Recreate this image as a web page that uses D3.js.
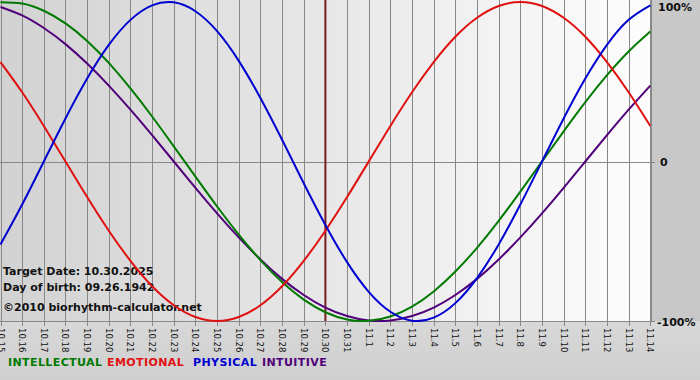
<!DOCTYPE html>
<html><head><meta charset="utf-8">
<script src="https://cdn.jsdelivr.net/npm/d3@7"></script>
<style>
html,body{margin:0;padding:0;background:#cbcbcb;}
svg{display:block;}
</style></head>
<body>
<svg id="c" width="700" height="380"></svg>
<script>
const dates = ["10.15","10.16","10.17","10.18","10.19","10.20","10.21","10.22","10.23","10.24","10.25","10.26","10.27","10.28","10.29","10.30","10.31","11.1","11.2","11.3","11.4","11.5","11.6","11.7","11.8","11.9","11.10","11.11","11.12","11.13","11.14"];
const physical = [-52.0,-27.0,0,27.0,52.0,73.1,88.8,97.9,99.8,94.2,81.7,63.1,39.8,13.6,-13.6,-39.8,-63.1,-81.7,-94.2,-99.8,-97.9,-88.8,-73.1,-52.0,-27.0,0,27.0,52.0,73.1,88.8,97.9];
const emotional = [62.3,43.4,22.3,0,-22.3,-43.4,-62.3,-78.2,-90.1,-97.5,-100,-97.5,-90.1,-78.2,-62.3,-43.4,-22.3,0,22.3,43.4,62.3,78.2,90.1,97.5,100,97.5,90.1,78.2,62.3,43.4,22.3];
const intellectual = [99.9,99.0,94.5,86.6,75.6,61.8,45.8,28.2,9.5,-9.5,-28.2,-45.8,-61.8,-75.6,-86.6,-94.5,-99.0,-99.9,-97.2,-91.0,-81.5,-69.0,-54.1,-37.2,-18.9,0,18.9,37.2,54.1,69.0,81.5];
const intuitive = [96.9,91.6,83.7,73.6,61.4,47.6,32.5,16.5,0,-16.5,-32.5,-47.6,-61.4,-73.6,-83.7,-91.6,-96.9,-99.7,-99.7,-96.9,-91.6,-83.7,-73.6,-61.4,-47.6,-32.5,-16.5,0,16.5,32.5,47.6];
const yTicks = [100,0,-100];
const yTickLabels = ["100%","0","-100%"];
const targetIndex = 15;
const infoLines = ["Target Date: 10.30.2025","Day of birth: 09.26.1942","©2010 biorhythm-calculator.net"];
const legend = [["INTELLECTUAL","#007a00"],["EMOTIONAL","#e01010"],["PHYSICAL","#0000d0"],["INTUITIVE","#50007a"]];

const svg = d3.select("#c");
const W=700,H=380, PL=0, PR=651, PT=0, PB=321;
const FONT = "DejaVu Sans, Verdana, sans-serif";
const x = d3.scaleLinear().domain([0,dates.length-1]).range([0.5,650.3]);
const y = d3.scaleLinear().domain([-100,100]).range([321,2]);
const defs = svg.append("defs");
const g1 = defs.append("linearGradient").attr("id","bg").attr("x1","0").attr("x2","1").attr("y1","0").attr("y2","0");
g1.append("stop").attr("offset","0").attr("stop-color","#d2d2d2");
g1.append("stop").attr("offset","1").attr("stop-color","#fdfdfd");
const g2 = defs.append("linearGradient").attr("id","bot").attr("x1","0").attr("x2","0").attr("y1","0").attr("y2","1");
g2.append("stop").attr("offset","0").attr("stop-color","#d8d8d8");
g2.append("stop").attr("offset","1").attr("stop-color","#cfcfcf");

svg.append("rect").attr("x",0).attr("y",PB).attr("width",W).attr("height",H-PB).attr("fill","url(#bot)");
svg.append("rect").attr("x",PR).attr("y",0).attr("width",W-PR).attr("height",PB).attr("fill","#c8c8c8");
svg.append("rect").attr("x",PL).attr("y",PT).attr("width",PR-PL).attr("height",PB-PT).attr("fill","url(#bg)");

// vertical grid + ticks + labels
const gx = svg.append("g");
dates.forEach((d,i)=>{
  const xx = Math.round(x(i))+0.5;
  gx.append("line").attr("x1",xx).attr("x2",xx).attr("y1",PT).attr("y2",PB+5)
    .attr("stroke","#888").attr("stroke-width",1);
  gx.append("text").attr("transform",`translate(${xx-3.5},${PB+7}) rotate(90)`)
    .attr("font-family",FONT).attr("font-size","8.5px")
    .attr("fill","#111").text(d);
});
// horizontal lines
svg.append("line").attr("x1",0).attr("x2",PR+4).attr("y1",Math.round(y(0))+0.5).attr("y2",Math.round(y(0))+0.5).attr("stroke","#888");
svg.append("line").attr("x1",0).attr("x2",PR+4).attr("y1",PB+0.5).attr("y2",PB+0.5).attr("stroke","#888");
svg.append("line").attr("x1",PR+0.5).attr("x2",PR+0.5).attr("y1",0).attr("y2",PB).attr("stroke","#888");

// y tick labels
const yBase = {"100":11,"0":166,"-100":326};
yTicks.forEach((t,i)=>{
  svg.append("text").attr("x",PR+(t===0?9:(t>0?7:6))).attr("y",yBase[String(t)])
    .attr("font-family",FONT).attr("font-size","11px").attr("font-weight","bold")
    .attr("fill","#111").text(yTickLabels[i]);
});

// info text
infoLines.forEach((t,i)=>{
  svg.append("text").attr("x",3).attr("y",[275,291,311][i])
    .attr("font-family",FONT).attr("font-size","11px").attr("font-weight","bold")
    .attr("fill","#111").text(t);
});

// target line
svg.append("line").attr("x1",x(targetIndex)).attr("x2",x(targetIndex)).attr("y1",0).attr("y2",PB)
  .attr("stroke","#7a1c1c").attr("stroke-width",2);

// curves
const line = d3.line().x((d,i)=>x(i)).y(d=>y(d)).curve(d3.curveNatural);
const clip = defs.append("clipPath").attr("id","clip");
clip.append("rect").attr("x",0).attr("y",0).attr("width",PR+1).attr("height",PB+1);
const series = [[intuitive,"#50007a"],[intellectual,"#007a00"],[emotional,"#e01010"],[physical,"#0000d0"]];
series.forEach(([s,c])=>{
  svg.append("path").attr("d",line(s)).attr("fill","none").attr("stroke",c).attr("stroke-width",2).attr("clip-path","url(#clip)");
});

// legend
const lx = [8,107,193,262];
legend.forEach(([t,c],i)=>{
  svg.append("text").attr("x",lx[i]).attr("y",366)
    .attr("font-family",FONT).attr("font-size","11px").attr("font-weight","bold")
    .attr("letter-spacing","0.4px").attr("fill",c).text(t);
});
</script>
</body></html>
